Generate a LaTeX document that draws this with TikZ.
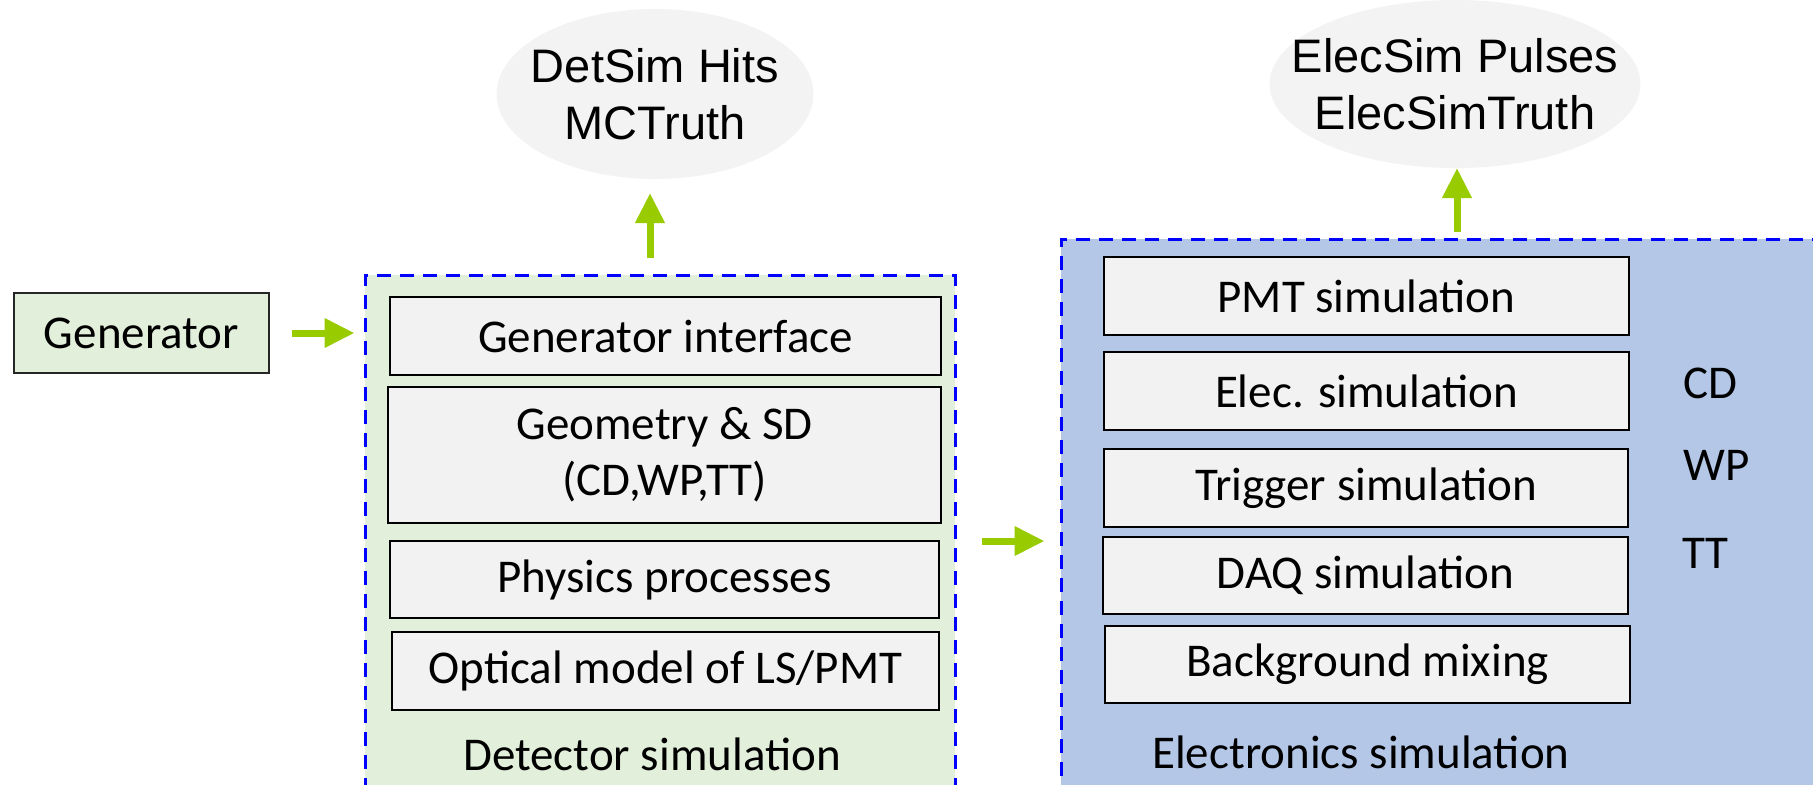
\documentclass[tikz,border=0pt]{standalone}
\usepackage{fontspec}
\setmainfont{Carlito}
\newfontfamily\arialf{Liberation Sans}
\usetikzlibrary{shapes.geometric,arrows.meta}
\definecolor{gfill}{HTML}{E2EFDA}
\definecolor{bfill}{HTML}{B4C7E7}
\definecolor{boxfill}{HTML}{F2F2F2}
\definecolor{ellfill}{HTML}{F3F3F3}
\definecolor{arrgreen}{HTML}{99CC00}
\definecolor{dashblue}{HTML}{0000FF}
\tikzset{
  txt/.style={font=\fontsize{23.5pt}{28pt}\selectfont},
  stagebox/.style={draw=black, line width=1.25pt, fill=boxfill, inner sep=0pt, txt, align=center},
  genbox/.style={draw=black!85, line width=1.25pt, fill=gfill, inner sep=0pt, txt},
  container/.style={draw=dashblue, line width=1.5pt, dash pattern=on 7pt off 4.5pt, inner sep=0pt},
  outell/.style={ellipse, fill=ellfill, inner ysep=0pt, align=center, font=\arialf\fontsize{23.5pt}{28.5pt}\selectfont},
  flow/.style={draw=arrgreen, line width=3.5pt, -{Triangle[width=14pt,length=15pt]}},
  lbl/.style={txt, inner sep=0pt}
}
\begin{document}
\begin{tikzpicture}[x=0.5pt,y=-0.5pt]
\useasboundingbox (0,0) rectangle (1813,784);
\clip (0,0) rectangle (1813,784);
% containers
\node[container, fill=gfill, minimum width=295pt, minimum height=262.5pt] (det) at (660,537.5) {};
\node[container, fill=bfill, minimum width=384.5pt, minimum height=280.5pt] (elec) at (1445.5,519.5) {};
% generator
\node[genbox, minimum width=127.5pt, minimum height=40pt] (gen) at (141.5,333) {Generator};
% detector stages
\node[stagebox, minimum width=275.5pt, minimum height=39pt] (gi) at (665.5,336) {Generator interface};
\node[stagebox, minimum width=276.5pt, minimum height=68pt] (geo) at (664.5,455) {Geometry \& SD\\(CD,WP,TT)};
\node[stagebox, minimum width=274.5pt, minimum height=38.5pt] (phys) at (664.5,579.5) {Physics processes};
\node[stagebox, minimum width=273.5pt, minimum height=39pt] (opt) at (665.5,671) {Optical model of LS/PMT};
\node[lbl, anchor=base] (detlbl) at (652,770) {Detector simulation};
% electronics stages
\node[stagebox, minimum width=262.5pt, minimum height=39pt] (pmt) at (1366.5,296) {PMT simulation};
\node[stagebox, minimum width=262.5pt, minimum height=39pt] (esim) at (1366.5,391) {Elec. simulation};
\node[stagebox, minimum width=262pt, minimum height=39pt] (trig) at (1366,488) {Trigger simulation};
\node[stagebox, minimum width=262.5pt, minimum height=38.5pt] (daq) at (1365.5,575.5) {DAQ simulation};
\node[stagebox, minimum width=262.5pt, minimum height=38.5pt] (bkg) at (1367.5,664.5) {Background mixing};
\node[lbl, anchor=base] (eleclbl) at (1361,768) {Electronics simulation};
\node[lbl, anchor=base west] (cd) at (1683,398) {CD};
\node[lbl, anchor=base west] (wp) at (1683,480) {WP};
\node[lbl, anchor=base west] (tt) at (1682,568) {TT};
% outputs
\node[outell, inner xsep=-7pt, minimum width=158.5pt, minimum height=85pt] (detout) at (655,94) {DetSim Hits\\MCTruth};
\node[outell, inner xsep=-21pt, minimum width=185.5pt, minimum height=84pt] (elecout) at (1455,84) {ElecSim Pulses\\ElecSimTruth};
% arrows
\coordinate (detup) at (650,275);
\coordinate (detdown) at (650,179);
\coordinate (elecup) at (1457,239);
\coordinate (elecdown) at (1457,167);
\coordinate (midy) at (0,541);
\draw[flow, shorten <=11pt, shorten >=4.5pt] (gen.east) -- (gen.east -| det.west);
\draw[flow, shorten <=8.5pt, shorten >=7pt] (detup) -- (detdown);
\draw[flow, shorten <=3.5pt, shorten >=0.5pt] (elecup) -- (elecdown);
\draw[flow, shorten <=12.5pt, shorten >=7.5pt] (midy -| det.east) -- (midy -| elec.west);
\end{tikzpicture}
\end{document}
